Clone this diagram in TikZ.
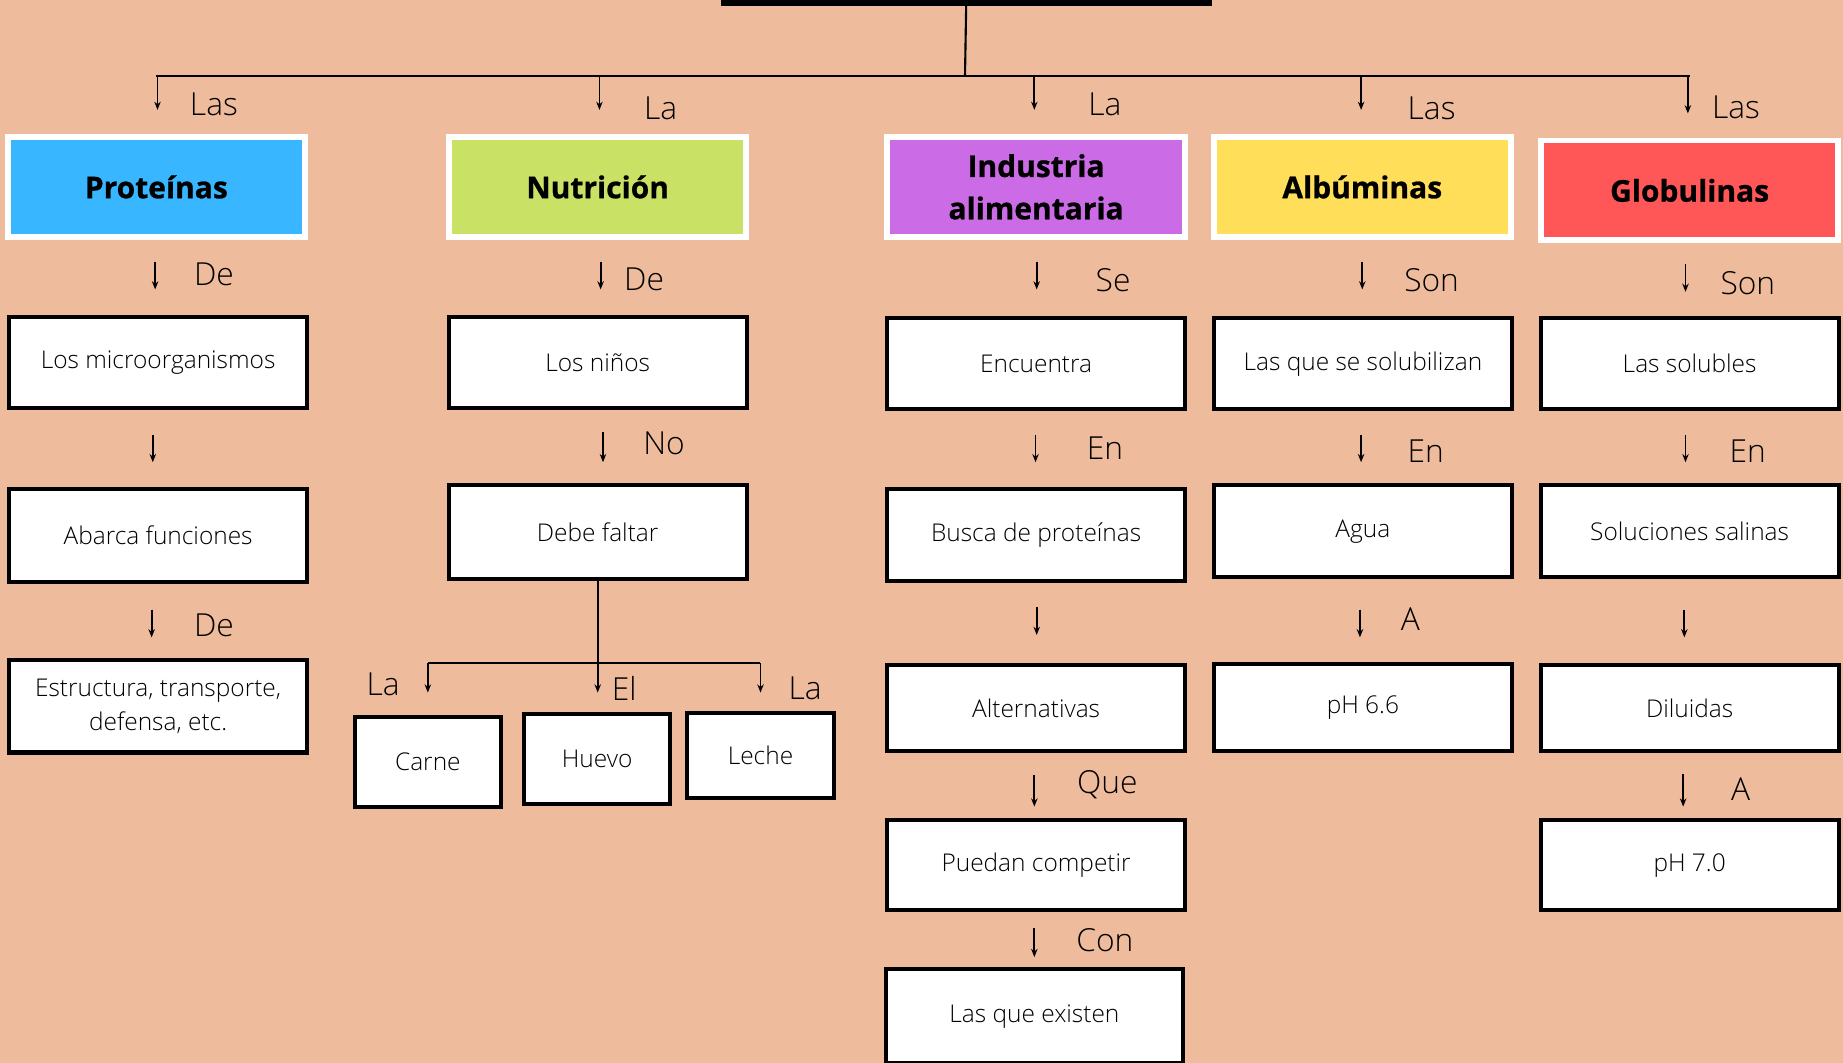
\documentclass[tikz,border=0pt]{standalone}
\usepackage{fontspec}
\setmainfont{Open Sans}[UprightFont=* Light, BoldFont=* Bold, BoldFeatures={FakeBold=0.8}]
\usetikzlibrary{arrows.meta}

\definecolor{bgpeach}{HTML}{EEBC9D}
\definecolor{cblue}{HTML}{38B6FF}
\definecolor{cgreen}{HTML}{C9E265}
\definecolor{cpurple}{HTML}{CB6CE6}
\definecolor{cyellow}{HTML}{FFDE59}
\definecolor{cred}{HTML}{FF5757}

\tikzset{
  headbox/.style={draw=white, line width=5pt, minimum width=253pt, minimum height=85pt,
    align=center, font=\fontsize{25.5}{36}\selectfont\bfseries, inner sep=0pt},
  leafbox/.style={draw=black, fill=white, line width=3.5pt, minimum width=253.5pt,
    minimum height=77.5pt, align=center, font=\fontsize{20.8}{29}\selectfont, inner sep=0pt},
  smallbox/.style={leafbox, minimum width=124.5pt},
  word/.style={font=\fontsize{27}{30}\selectfont, inner sep=0pt},
  tree/.style={line width=1.8pt},
  arr/.style={line width=1.5pt, -{Stealth[length=7pt, width=5.5pt]}},
}

% vertical arrow below node #1 pointing at node #2, shifted by #3,
% leaving gaps #4 and #5 at its ends
\newcommand{\link}[5]{%
  \path (#1.south) ++(#3,0) coordinate (tmp);
  \draw[arr, shorten <=#4pt, shorten >=#5pt] (tmp) -- (tmp |- #2.north);}

\begin{document}
\begin{tikzpicture}[x=1pt, y=-1pt]
  \useasboundingbox (0,0) rectangle (1568,904);
  \fill[bgpeach] (0,0) rectangle (1568,904);
  \clip (0,0) rectangle (1568,904);

  % title bar (only its lower edge is in view)
  \node[fill=black, minimum width=418pt, minimum height=30pt, inner sep=0pt] (root) at (822,-10) {};

  % coloured headings
  \node[headbox, fill=cblue]   (P1) at (133,159)    {Proteínas};
  \node[headbox, fill=cgreen]  (N1) at (508.5,159)  {Nutrición};
  \node[headbox, fill=cpurple] (I1) at (881.5,159)  {Industria\\alimentaria};
  \node[headbox, fill=cyellow] (A1) at (1159,159)   {Albúminas};
  \node[headbox, fill=cred]    (G1) at (1437.5,162) {Globulinas};

  % Proteínas column
  \node[leafbox] (P2) at (134.5,308.5) {Los microorganismos};
  \node[leafbox, minimum height=79.5pt] (P3) at (134.5,455.5) {Abarca funciones};
  \node[leafbox, minimum height=78.5pt] (P4) at (134.5,601) {Estructura, transporte,\\defensa, etc.};

  % Nutrición column
  \node[leafbox] (N2) at (508.5,308.5) {Los niños};
  \node[leafbox, minimum height=79.5pt] (N3) at (508.5,452.5) {Debe faltar};
  \node[smallbox, minimum height=76.5pt] (Carne) at (364,648) {Carne};
  \node[smallbox, minimum height=76.5pt] (Huevo) at (508,646) {Huevo};
  \node[smallbox, minimum height=72.5pt] (Leche) at (647,643) {Leche};

  % Industria alimentaria column
  \node[leafbox] (I2) at (881.5,309.5) {Encuentra};
  \node[leafbox, minimum height=78.5pt] (I3) at (881.5,455) {Busca de proteínas};
  \node[leafbox, minimum height=73.5pt] (I4) at (881.5,602.5) {Alternativas};
  \node[leafbox, minimum height=76.5pt] (I5) at (881.5,736) {Puedan competir};
  \node[leafbox, minimum height=79.5pt, minimum width=252.5pt] (I6) at (880,864.5) {Las que existen};

  % Albúminas column
  \node[leafbox] (A2) at (1159.5,309.5) {Las que se solubilizan};
  \node[leafbox, minimum height=78.5pt] (A3) at (1159.5,452) {Agua};
  \node[leafbox, minimum height=74.5pt] (A4) at (1159.5,602) {pH 6.6};

  % Globulinas column
  \node[leafbox] (G2) at (1437.5,309.5) {Las solubles};
  \node[leafbox, minimum height=78.5pt] (G3) at (1437.5,452) {Soluciones salinas};
  \node[leafbox, minimum height=73.5pt] (G4) at (1437.5,602.5) {Diluidas};
  \node[leafbox, minimum height=76.5pt] (G5) at (1437.5,736) {pH 7.0};

  % trunk and branches from the title
  \coordinate (hub) at (821,65);
  \draw[tree] (root.south) -- (hub);
  \draw[tree] (P1.north |- hub) -- (G1.north |- hub);
  \foreach \b/\dx in {P1/1, N1/1.5, I1/-1.5, A1/-1, G1/-1.5} {
    \path (\b.north |- hub) ++(\dx,0) coordinate (tmp);
    \draw[arr, shorten >=20.5pt] (tmp) -- (tmp |- \b.north);
  }

  % arrows down the columns
  \link{P1}{P2}{-1}{18.5}{21.75}
  \link{P2}{P3}{-4.5}{20.75}{20.75}
  \link{P3}{P4}{-5.5}{21.75}{17.75}

  \link{N1}{N2}{2.5}{18.5}{21.75}
  \link{N2}{N3}{4.5}{18.75}{17.75}

  \link{I1}{I2}{0.5}{18.5}{22.75}
  \link{I2}{I3}{-0.5}{19.75}{20.75}
  \link{I3}{I4}{0.5}{20.75}{23.75}
  \link{I4}{I5}{-1.5}{18.75}{9.75}
  \link{I5}{I6}{-1.5}{13.75}{8.75}

  \link{A1}{A2}{0}{18.5}{22.75}
  \link{A2}{A3}{-1.5}{19.75}{17.75}
  \link{A3}{A4}{-2.5}{25.75}{20.75}

  \link{G1}{G2}{-3.5}{17.5}{20.75}
  \link{G2}{G3}{-3.5}{19.75}{17.75}
  \link{G3}{G4}{-4.5}{25.75}{21.75}
  \link{G4}{G5}{-5.5}{17.75}{9.75}

  % Nutrición split into the three foods
  \coordinate (split) at (509,564);
  \draw[tree] (Carne.north |- split) -- (Leche.north |- split);
  \draw[arr, shorten >=16.75pt] (N3.south) -- (N3.south |- Huevo.north);
  \draw[arr, shorten >=18.75pt] (Carne.north |- split) -- (Carne.north);
  \draw[arr, shorten >=15.75pt] (Leche.north |- split) -- (Leche.north);

  % connecting words
  \node[word] (w1)  at (182,89)   {Las};
  \node[word] (w2)  at (562,92)   {La};
  \node[word] (w3)  at (940,89)   {La};
  \node[word] (w4)  at (1218,92)  {Las};
  \node[word] (w5)  at (1477,91)  {Las};
  \node[word] (w6)  at (182,233)  {De};
  \node[word] (w7)  at (548,238)  {De};
  \node[word] (w8)  at (947,238)  {Se};
  \node[word] (w9)  at (1218,238) {Son};
  \node[word] (w10) at (1487,241) {Son};
  \node[word] (w11) at (565,377)  {No};
  \node[word] (w12) at (940,381)  {En};
  \node[word] (w13) at (1213,384) {En};
  \node[word] (w14) at (1487,384) {En};
  \node[word] (w15) at (182,532)  {De};
  \node[word] (w16) at (1200,527) {A};
  \node[word] (w17) at (942,668)  {Que};
  \node[word] (w18) at (940,800)  {Con};
  \node[word] (w19) at (1481,671) {A};
  \node[word] (w20) at (326,582)  {La};
  \node[word] (w21) at (531,586)  {El};
  \node[word] (w22) at (685,586)  {La};
\end{tikzpicture}
\end{document}
